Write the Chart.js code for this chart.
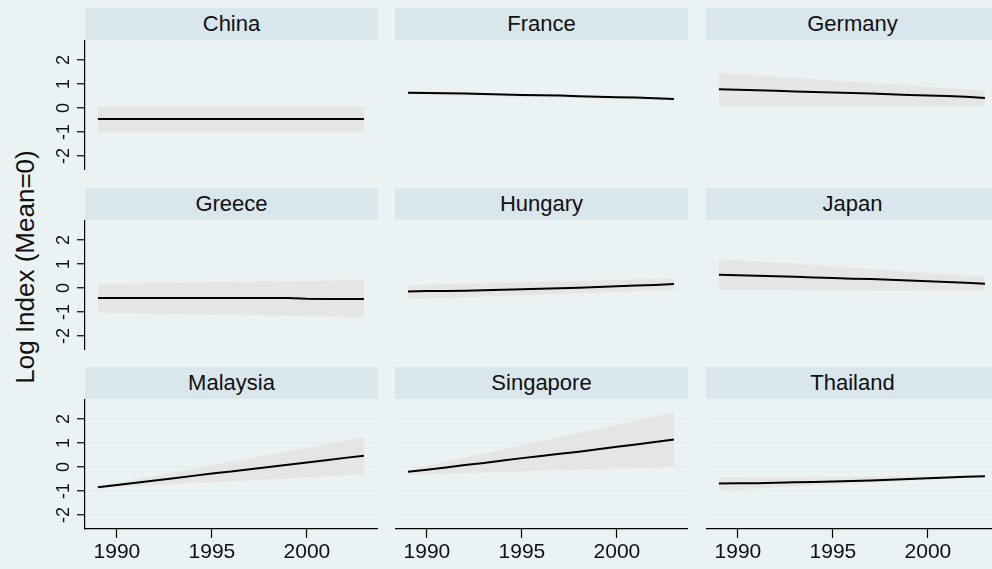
<!DOCTYPE html>
<html>
<head>
<meta charset="utf-8">
<script src="https://cdn.jsdelivr.net/npm/chart.js@4.4.0/dist/chart.umd.min.js"></script>
<style>
  body { margin: 0; background: #eaf2f3; }
  #wrap { position: relative; width: 992px; height: 569px; overflow: hidden; background: #eaf2f3;
          font-family: 'Liberation Sans', Arial, sans-serif; }
  .strip { position: absolute; background: #d9e6eb; color: #111; text-align: center; font-size: 22px; }
  .cv { position: absolute; }
  #ytitle { position: absolute; left: -125px; top: 252px; width: 300px; height: 30px; line-height: 30px;
            text-align: center; font-size: 26px; color: #111; transform: rotate(-90deg); }
</style>
</head>
<body>
<div id="wrap">
  <div id="ytitle">Log Index (Mean=0)</div>
</div>
<script>
// years on the x axis
var years = [1989, 1990, 1991, 1992, 1993, 1994, 1995, 1996, 1997, 1998, 1999, 2000, 2001, 2002, 2003];
var bandYears = [1989, 2003];
var xTicks = [1990, 1995, 2000];
var yTicks = [-2, -1, 0, 1, 2];

var countries = ['China', 'France', 'Germany', 'Greece', 'Hungary', 'Japan', 'Malaysia', 'Singapore', 'Thailand'];

// fitted log index per year
var chinaFit     = [-0.46, -0.46, -0.46, -0.46, -0.46, -0.46, -0.46, -0.46, -0.46, -0.46, -0.46, -0.46, -0.46, -0.46, -0.46];
var franceFit    = [0.64, 0.62, 0.61, 0.60, 0.58, 0.56, 0.54, 0.53, 0.52, 0.49, 0.47, 0.45, 0.44, 0.41, 0.37];
var germanyFit   = [0.78, 0.76, 0.74, 0.72, 0.69, 0.67, 0.65, 0.62, 0.60, 0.57, 0.54, 0.52, 0.50, 0.47, 0.42];
var greeceFit    = [-0.42, -0.42, -0.42, -0.42, -0.42, -0.42, -0.42, -0.42, -0.42, -0.42, -0.42, -0.45, -0.46, -0.46, -0.46];
var hungaryFit   = [-0.15, -0.13, -0.12, -0.11, -0.09, -0.07, -0.05, -0.03, -0.01, 0.01, 0.04, 0.07, 0.10, 0.13, 0.17];
var japanFit     = [0.55, 0.53, 0.51, 0.49, 0.47, 0.44, 0.42, 0.39, 0.37, 0.34, 0.31, 0.28, 0.25, 0.22, 0.18];
var malaysiaFit  = [-0.84, -0.75, -0.66, -0.56, -0.47, -0.37, -0.27, -0.19, -0.09, 0.00, 0.09, 0.19, 0.28, 0.38, 0.47];
var singaporeFit = [-0.20, -0.11, -0.02, 0.08, 0.17, 0.27, 0.37, 0.46, 0.55, 0.64, 0.74, 0.84, 0.94, 1.04, 1.15];
var thailandFit  = [-0.69, -0.68, -0.68, -0.66, -0.64, -0.62, -0.60, -0.58, -0.56, -0.53, -0.50, -0.47, -0.44, -0.41, -0.39];

// confidence band edges at 1989 and 2003
var chinaHi = [0.04, 0.04],      chinaLo = [-1.01, -1.01];
var franceHi = [0.71, 0.43],     franceLo = [0.57, 0.31];
var germanyHi = [1.47, 0.72],    germanyLo = [0.08, 0.08];
var greeceHi = [0.18, 0.33],     greeceLo = [-1.02, -1.22];
var hungaryHi = [0.12, 0.40],    hungaryLo = [-0.46, -0.08];
var japanHi = [1.21, 0.47],      japanLo = [-0.07, -0.13];
var malaysiaHi = [-0.80, 1.24],  malaysiaLo = [-0.88, -0.31];
var singaporeHi = [-0.13, 2.28], singaporeLo = [-0.32, 0.00];
var thailandHi = [-0.44, -0.36], thailandLo = [-0.97, -0.42];

var fits = [chinaFit, franceFit, germanyFit, greeceFit, hungaryFit, japanFit, malaysiaFit, singaporeFit, thailandFit];
var his = [chinaHi, franceHi, germanyHi, greeceHi, hungaryHi, japanHi, malaysiaHi, singaporeHi, thailandHi];
var los = [chinaLo, franceLo, germanyLo, greeceLo, hungaryLo, japanLo, malaysiaLo, singaporeLo, thailandLo];

var plotLeft = [85, 395, 706];
var stripTop = [8, 188, 367];
var plotW = 293, plotH = 130, stripH = 32, axisW = 45, axisH = 40;
var font = "'Liberation Sans', Arial, sans-serif";

function pts(xs, ys) {
  return xs.map(function (x, i) { return { x: x, y: ys[i] }; });
}

var wrap = document.getElementById('wrap');

for (var i = 0; i < countries.length; i++) {
  var r = Math.floor(i / 3), c = i % 3;
  var leftAxis = c == 0, bottomAxis = r == 2;

  var strip = document.createElement('div');
  strip.className = 'strip';
  strip.style.left = plotLeft[c] + 'px';
  strip.style.top = stripTop[r] + 'px';
  strip.style.width = plotW + 'px';
  strip.style.height = stripH + 'px';
  strip.style.lineHeight = stripH + 'px';
  strip.textContent = countries[i];
  wrap.appendChild(strip);

  var cv = document.createElement('canvas');
  cv.className = 'cv';
  var cw = plotW + (leftAxis ? axisW : 0);
  var ch = plotH + (bottomAxis ? axisH : 0);
  cv.width = cw; cv.height = ch;
  cv.style.left = (plotLeft[c] - (leftAxis ? axisW : 0)) + 'px';
  cv.style.top = (stripTop[r] + stripH) + 'px';
  cv.style.width = cw + 'px'; cv.style.height = ch + 'px';
  wrap.appendChild(cv);

  makeChart(cv, i, leftAxis, bottomAxis);
}

function makeChart(cv, i, leftAxis, bottomAxis) {
  new Chart(cv, {
    type: 'line',
    data: {
      datasets: [
        { data: pts(bandYears, his[i]), fill: '+1', backgroundColor: '#e5e5e5', order: 2,
          borderColor: 'rgba(0,0,0,0)', borderWidth: 0, pointRadius: 0 },
        { data: pts(bandYears, los[i]), fill: false, order: 3,
          borderColor: 'rgba(0,0,0,0)', borderWidth: 0, pointRadius: 0 },
        { data: pts(years, fits[i]), fill: false, borderColor: '#000', borderWidth: 2, order: 0,
          pointRadius: 0, tension: 0 }
      ]
    },
    options: {
      responsive: false,
      animation: false,
      events: [],
      layout: { padding: 0 },
      plugins: { legend: { display: false }, tooltip: { enabled: false } },
      scales: {
        x: {
          type: 'linear', min: 1988.32, max: 2003.74,
          display: bottomAxis,
          afterBuildTicks: function (s) { s.ticks = xTicks.map(function (v) { return { value: v }; }); },
          afterFit: function (s) {
            s.height = bottomAxis ? axisH : 0;
            s.paddingLeft = 0; s.paddingRight = 0;
          },
          grid: { drawOnChartArea: false, tickLength: 9, tickColor: '#000', tickWidth: 1.2 },
          border: { color: '#000', width: 1.2 },
          ticks: { font: { family: font, size: 21 }, color: '#111', maxRotation: 0, padding: 2,
                   callback: function (v) { return String(v); } }
        },
        y: {
          min: -2.583, max: 2.833,
          afterBuildTicks: function (s) { s.ticks = yTicks.map(function (v) { return { value: v }; }); },
          afterFit: function (s) {
            s.width = leftAxis ? axisW : 0;
            s.paddingTop = 0; s.paddingBottom = 0;
          },
          grid: { color: '#e4edf0', lineWidth: 1.5, drawTicks: leftAxis, tickLength: 8,
                  tickColor: '#000', tickWidth: 1.2 },
          border: { display: leftAxis, color: '#000', width: 1.2 },
          ticks: { display: leftAxis, minRotation: 90, maxRotation: 90, crossAlign: 'center',
                   font: { family: font, size: 18 }, color: '#111', padding: 5 }
        }
      }
    }
  });
}
</script>
</body>
</html>
